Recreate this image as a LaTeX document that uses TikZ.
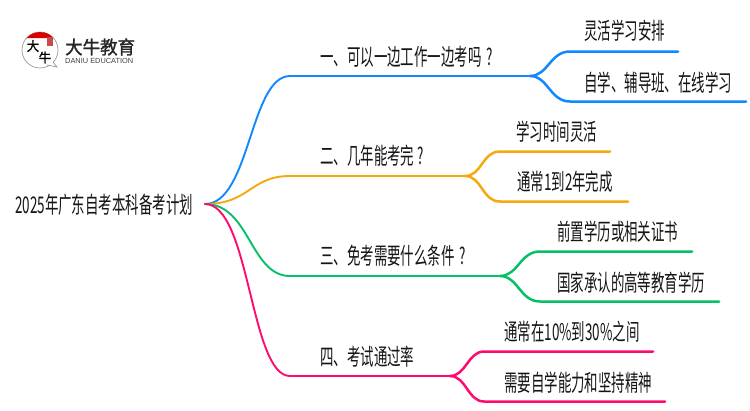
\documentclass[tikz,border=0pt]{standalone}
\usepackage{fontspec}
\setmainfont[FakeStretch=0.585]{Noto Sans CJK SC}
\newfontfamily\logofont[FakeStretch=0.95,FakeBold=1.5]{Noto Sans CJK SC}
\newfontfamily\latinfont{Liberation Sans}
\definecolor{blueline}{HTML}{1088FF}
\definecolor{orangeline}{HTML}{F5A90F}
\definecolor{greenline}{HTML}{05C067}
\definecolor{pinkline}{HTML}{FF0A6E}
\definecolor{textcol}{HTML}{151515}
\tikzset{
    textlabel/.style={anchor=west,inner sep=0pt,text=textcol,font=\fontsize{23pt}{23pt}\selectfont},
    logochar/.style={inner sep=0pt,text=black,font=\logofont\fontsize{13pt}{13pt}\selectfont},
    rootline/.style={line width=1.9pt,line cap=round},
    branchline/.style={line width=2.5pt,line cap=round}
}
\begin{document}
\begin{tikzpicture}[x=1pt,y=-1pt]
    \useasboundingbox (0,0) rectangle (750,410);
    % logo
    \draw[black!45,line width=.6pt](40,50)circle(18);
    \fill[white,draw=black!45,line width=.6pt](47,65)--(57,67)--(53,62);
    \fill[red!85!black](26.6,38)arc(138:42:18pt)--cycle;
    \fill[red!70!black!70](47,37)rectangle(53,46);
    \node[logochar](logoda)at(33,46){大};
    \node[logochar](logoniu)at(45,57.5){牛};
    \node[anchor=west,inner sep=0pt,text=black!85,font=\logofont\fontsize{18.4pt}{18.4pt}\selectfont](logoname)at(65,47){大牛教育};
    \node[anchor=west,inner sep=0pt,text=black!75,font=\latinfont\fontsize{7.4pt}{7.4pt}\selectfont](logosub)at(65,60.5){DANIU EDUCATION};
    % root and coordinates
    \node[textlabel](root)at(15,205){2025年广东自考本科备考计划};
    \coordinate(start)at(205,204);
    \coordinate(a)at(290,76);
    \coordinate(as)at(530,76);
    \coordinate(a1)at(570,51.5);
    \coordinate(a1e)at(678,51.5);
    \coordinate(a2)at(570,101.5);
    \coordinate(a2e)at(746,101.5);
    \coordinate(b)at(290,176);
    \coordinate(bs)at(465,176);
    \coordinate(b1)at(500,151.5);
    \coordinate(b1e)at(610,151.5);
    \coordinate(b2)at(500,201.5);
    \coordinate(b2e)at(628,201.5);
    \coordinate(c)at(290,276);
    \coordinate(cs)at(500,276);
    \coordinate(c1)at(540,251.5);
    \coordinate(c1e)at(692,251.5);
    \coordinate(c2)at(540,301.5);
    \coordinate(c2e)at(719,301.5);
    \coordinate(d)at(290,376);
    \coordinate(ds)at(450,376);
    \coordinate(d1)at(484,351.5);
    \coordinate(d1e)at(653,351.5);
    \coordinate(d2)at(484,401.5);
    \coordinate(d2e)at(665,401.5);
    % branches
    \draw[rootline,blueline](start)..controls(250,204)and(250,76)..(a);
    \draw[branchline,blueline](a)--(as);
    \draw[branchline,blueline](as)..controls(548,76)and(550,51.5)..(a1)--(a1e);
    \draw[branchline,blueline](as)..controls(548,76)and(550,101.5)..(a2)--(a2e);
    \draw[rootline,orangeline](start)..controls(250,204)and(250,176)..(b);
    \draw[branchline,orangeline](b)--(bs);
    \draw[branchline,orangeline](bs)..controls(482,176)and(482,151.5)..(b1)--(b1e);
    \draw[branchline,orangeline](bs)..controls(482,176)and(482,201.5)..(b2)--(b2e);
    \draw[rootline,greenline](start)..controls(250,204)and(250,276)..(c);
    \draw[branchline,greenline](c)--(cs);
    \draw[branchline,greenline](cs)..controls(518,276)and(520,251.5)..(c1)--(c1e);
    \draw[branchline,greenline](cs)..controls(518,276)and(520,301.5)..(c2)--(c2e);
    \draw[rootline,pinkline](start)..controls(250,204)and(250,376)..(d);
    \draw[branchline,pinkline](d)--(ds);
    \draw[branchline,pinkline](ds)..controls(466,376)and(468,351.5)..(d1)--(d1e);
    \draw[branchline,pinkline](ds)..controls(466,376)and(468,401.5)..(d2)--(d2e);
    % labels
    \node[textlabel](atext)at(320,57){一、可以一边工作一边考吗\hspace{5pt}?};
    \node[textlabel](a1text)at(584,31){灵活学习安排};
    \node[textlabel](a2text)at(584,83){自学、辅导班、在线学习};
    \node[textlabel](btext)at(320,156){二、几年能考完\hspace{3pt}?};
    \node[textlabel](b1text)at(516,132){学习时间灵活};
    \node[textlabel](b2text)at(517,182){通常1到2年完成};
    \node[textlabel](ctext)at(320,256){三、免考需要什么条件\hspace{5pt}?};
    \node[textlabel](c1text)at(557,232){前置学历或相关证书};
    \node[textlabel](c2text)at(557,283){国家承认的高等教育学历};
    \node[textlabel](dtext)at(320,357){四、考试通过率};
    \node[textlabel](d1text)at(504,332){通常在10\%到30\%之间};
    \node[textlabel](d2text)at(504,383){需要自学能力和坚持精神};
\end{tikzpicture}
\end{document}
